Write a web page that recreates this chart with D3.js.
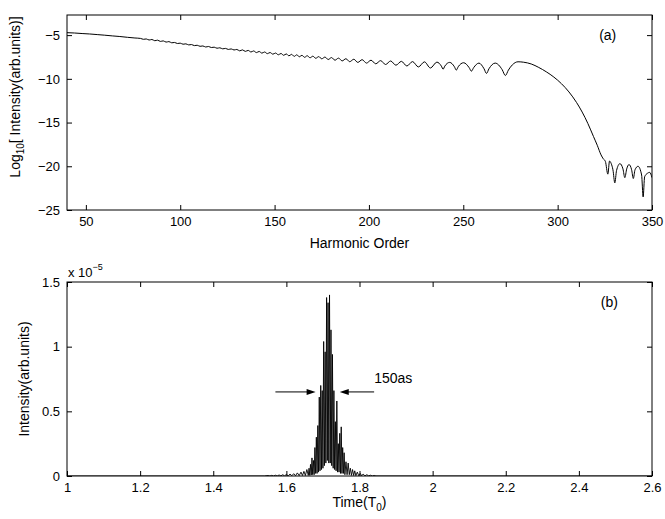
<!DOCTYPE html>
<html>
<head>
<meta charset="utf-8">
<script src="https://cdn.jsdelivr.net/npm/d3@7"></script>
<style>
  body { margin: 0; background: #fff; }
  svg { font-family: "Liberation Sans", Arial, Helvetica, sans-serif; }
</style>
</head>
<body>
<svg id="chart" width="665" height="519"></svg>
<script>
// panel (a): harmonic spectrum, log10 intensity
const harmonicOrder = [
  40, 44, 48, 52, 56, 60, 64, 68, 72, 76,
  79, 80.5, 82, 83.5, 85, 86.5, 88, 89.5, 91, 92.5, 94, 95.5, 97, 98.5, 100,
  101.5, 103, 104.5, 106, 107.5, 109, 110.5, 112, 113.5, 115, 116.5, 118, 119.5,
  121, 122.5, 124, 125.5, 127, 128.5, 130,
  131.5, 133, 134.5, 136, 137.5, 138.9, 140.4, 141.8, 143.3, 144.7, 146.2, 147.6,
  149.1, 150.5, 152, 153.4, 154.8, 156.2, 157.6, 159, 160.4, 161.8,
  163.1, 164.5, 165.9, 167.3, 168.8, 170.3, 171.8, 173.4, 175, 176.7, 178.4, 180.2,
  182, 183.9, 185.8, 187.8, 189.8, 192, 194.1, 196.4, 198.7, 201.1, 203.6, 206.2,
  208.8, 211.5, 214.3, 217.2, 220.1, 223.1, 226.2, 229.4, 232.6, 236,
  238.4, 239.3, 240.2, 242.8, 245.3, 246.3, 247.3, 250.2, 253.1, 254.3, 255.5, 258.3,
  261, 262.3, 263.6, 266.9, 270.6, 272.3, 273.9, 276, 279,
  282, 286, 290, 294, 298, 302, 306, 310, 313, 316, 319, 321, 323,
  324.2, 325.3, 326.6, 327.5, 328.4, 329.3, 330.3, 331.2, 333, 334.6, 335.6, 336.6,
  337.8, 339.2, 340.1, 341, 342.6, 344.5, 345.3, 346.1, 347.6, 348.8, 350
];
const logIntensity = [
  -4.72, -4.76, -4.82, -4.87, -4.94, -5.01, -5.09, -5.16, -5.25, -5.33,
  -5.38, -5.48, -5.44, -5.56, -5.50, -5.64, -5.58, -5.72, -5.66, -5.80, -5.74, -5.88, -5.84, -5.96, -5.92,
  -6.04, -6.00, -6.12, -6.08, -6.20, -6.16, -6.28, -6.24, -6.36, -6.30, -6.42, -6.38, -6.50,
  -6.45, -6.57, -6.52, -6.64, -6.58, -6.70, -6.64,
  -6.80, -6.69, -6.86, -6.75, -6.93, -6.81, -7.00, -6.87, -7.06, -6.93, -7.12, -6.99,
  -7.18, -7.05, -7.25, -7.10, -7.31, -7.15, -7.37, -7.20, -7.43, -7.25,
  -7.48, -7.31, -7.54, -7.36, -7.59, -7.41, -7.65, -7.46, -7.71, -7.51, -7.79, -7.57,
  -7.87, -7.63, -7.95, -7.70, -8.04, -7.76, -8.12, -7.81, -8.20, -7.87, -8.28, -7.92,
  -8.36, -7.96, -8.44, -8.00, -8.53, -8.03, -8.64, -8.06, -8.76, -8.09,
  -8.55, -8.90, -8.55, -8.12, -8.62, -9.00, -8.62, -8.16, -8.72, -9.12, -8.72, -8.20,
  -8.85, -9.38, -8.85, -8.20, -8.95, -9.62, -9.00, -8.40, -8.05,
  -8.10, -8.30, -8.70, -9.20, -9.80, -10.55, -11.50, -12.70, -13.80, -15.10, -16.60, -17.60, -18.70,
  -19.15, -19.45, -20.90, -19.40, -19.70, -20.40, -21.90, -20.50, -19.70, -20.30, -21.30, -20.30,
  -19.80, -20.40, -21.40, -20.40, -20.00, -21.00, -23.50, -21.20, -20.80, -20.70, -21.30
];
const harmonicTicks = [50, 100, 150, 200, 250, 300, 350];
const logTicks = [-25, -20, -15, -10, -5];

// panel (b): attosecond pulse, intensity in units of 1e-5
const pulseTime = [
  1.000, 1.540, 1.550, 1.555, 1.560, 1.565, 1.570, 1.575, 1.580, 1.585, 1.590, 1.595,
  1.600, 1.605, 1.610, 1.615, 1.620, 1.625, 1.630, 1.635, 1.640, 1.644, 1.648, 1.652,
  1.656, 1.660, 1.662, 1.664, 1.666, 1.668, 1.670, 1.672, 1.674, 1.676, 1.678, 1.680,
  1.682, 1.684, 1.686, 1.688, 1.690, 1.692, 1.694, 1.696, 1.698, 1.700, 1.702, 1.704,
  1.706, 1.708, 1.710, 1.712, 1.714, 1.716, 1.718, 1.720, 1.722, 1.724, 1.726, 1.728,
  1.730, 1.732, 1.734, 1.736, 1.738, 1.740, 1.742, 1.744, 1.746, 1.748, 1.750, 1.752,
  1.754, 1.756, 1.758, 1.760, 1.763, 1.766, 1.769, 1.772, 1.775, 1.778, 1.781, 1.784,
  1.787, 1.790, 1.794, 1.798, 1.802, 1.806, 1.810, 1.815, 1.820, 1.825, 1.830, 1.835,
  1.840, 1.845, 2.600
];
const pulseIntensity = [
  0, 0, 0.004, 0, 0.005, 0, 0.006, 0, 0.008, 0.001, 0.010, 0.001,
  0.012, 0.001, 0.015, 0.002, 0.018, 0.002, 0.024, 0.003, 0.030, 0.004, 0.036, 0.004,
  0.050, 0.005, 0.06, 0.005, 0.09, 0.008, 0.14, 0.01, 0.12, 0.01, 0.22, 0.02,
  0.30, 0.02, 0.39, 0.03, 0.61, 0.04, 0.70, 0.05, 0.66, 0.06, 1.04, 0.08,
  0.96, 0.10, 1.38, 0.12, 1.34, 0.10, 1.40, 0.10, 1.13, 0.08, 0.94, 0.06,
  0.66, 0.05, 0.42, 0.04, 0.58, 0.03, 0.25, 0.03, 0.33, 0.02, 0.38, 0.02,
  0.22, 0.02, 0.18, 0.01, 0.11, 0.01, 0.10, 0.01, 0.06, 0.005, 0.05, 0.004,
  0.04, 0.003, 0.03, 0.002, 0.02, 0.002, 0.015, 0.001, 0.010, 0.001, 0.006, 0,
  0.004, 0, 0
];
const timeTicks = [1, 1.2, 1.4, 1.6, 1.8, 2, 2.2, 2.4, 2.6];
const intensityTicks = [0, 0.5, 1, 1.5];

const svg = d3.select('#chart');
const tickLen = 5;
const fmt = d => String(+d.toFixed(1)).replace('-', '\u2212');

function drawFrame(g, x, y, xTicks, yTicks, w, h) {
    g.append('g')
        .attr('transform', `translate(0,${h})`)
        .call(d3.axisBottom(x).tickValues(xTicks).tickFormat(fmt)
            .tickSizeInner(-tickLen).tickSizeOuter(0).tickPadding(7))
        .call(a => a.select('.domain').remove());
    g.append('g')
        .call(d3.axisTop(x).tickValues(xTicks).tickFormat('')
            .tickSizeInner(-tickLen).tickSizeOuter(0))
        .call(a => a.select('.domain').remove());
    g.append('g')
        .call(d3.axisLeft(y).tickValues(yTicks).tickFormat(fmt)
            .tickSizeInner(-tickLen).tickSizeOuter(0).tickPadding(7))
        .call(a => a.select('.domain').remove());
    g.append('g')
        .attr('transform', `translate(${w},0)`)
        .call(d3.axisRight(y).tickValues(yTicks).tickFormat('')
            .tickSizeInner(-tickLen).tickSizeOuter(0))
        .call(a => a.select('.domain').remove());
    g.selectAll('.tick text').style('font-size', '13px').attr('fill', '#000');
    g.selectAll('.tick line').attr('stroke', '#000');
    g.append('rect')
        .attr('width', w).attr('height', h)
        .attr('fill', 'none').attr('stroke', '#000').attr('stroke-width', 1);
}

// ---- panel (a)
const A = { left: 67, top: 15, width: 585, height: 195 };
const gA = svg.append('g').attr('transform', `translate(${A.left},${A.top})`);
const xA = d3.scaleLinear().domain([40, 350]).range([0, A.width]);
const yA = d3.scaleLinear().domain([-25, -2.7]).range([A.height, 0]);

svg.append('clipPath').attr('id', 'clipA')
    .append('rect').attr('width', A.width).attr('height', A.height);

const spectrum = harmonicOrder.map((h, i) => ({ h: h, v: logIntensity[i] }));
gA.append('path')
    .datum(spectrum)
    .attr('clip-path', 'url(#clipA)')
    .attr('fill', 'none')
    .attr('stroke', '#000')
    .attr('stroke-width', 1)
    .attr('d', d3.line().curve(d3.curveMonotoneX).x(d => xA(d.h)).y(d => yA(d.v)));

drawFrame(gA, xA, yA, harmonicTicks, logTicks, A.width, A.height);

gA.append('text')
    .attr('x', xA(322)).attr('y', yA(-5.6))
    .style('font-size', '14px')
    .text('(a)');

svg.append('text')
    .attr('x', A.left + A.width / 2).attr('y', 248)
    .attr('text-anchor', 'middle')
    .style('font-size', '14px')
    .text('Harmonic Order');

const labA = svg.append('text')
    .attr('transform', 'translate(20,97) rotate(-90)')
    .attr('text-anchor', 'middle')
    .style('font-size', '14px');
labA.append('tspan').text('Log');
labA.append('tspan').attr('dy', 4).style('font-size', '10px').text('10');
labA.append('tspan').attr('dy', -4).text('[ Intensity(arb.units)]');

// ---- panel (b)
const B = { left: 67, top: 282, width: 585, height: 194 };
const gB = svg.append('g').attr('transform', `translate(${B.left},${B.top})`);
const xB = d3.scaleLinear().domain([1, 2.6]).range([0, B.width]);
const yB = d3.scaleLinear().domain([0, 1.5]).range([B.height, 0]);

svg.append('clipPath').attr('id', 'clipB')
    .append('rect').attr('width', B.width).attr('height', B.height);

const pulse = pulseTime.map((t, i) => ({ t: t, v: pulseIntensity[i] }));
gB.append('path')
    .datum(pulse)
    .attr('clip-path', 'url(#clipB)')
    .attr('fill', 'none')
    .attr('stroke', '#000')
    .attr('stroke-width', 0.9)
    .attr('d', d3.line().x(d => xB(d.t)).y(d => yB(d.v)));

drawFrame(gB, xB, yB, timeTicks, intensityTicks, B.width, B.height);

// arrows marking the 150as width
const arrowY = yB(0.65);
function arrow(x1, x2) {
    const dir = Math.sign(x2 - x1);
    gB.append('line')
        .attr('x1', x1).attr('x2', x2 - dir * 7)
        .attr('y1', arrowY).attr('y2', arrowY)
        .attr('stroke', '#000').attr('stroke-width', 1);
    gB.append('path')
        .attr('d', `M${x2},${arrowY} L${x2 - dir * 9},${arrowY - 3} L${x2 - dir * 9},${arrowY + 3} Z`)
        .attr('fill', '#000');
}
arrow(xB(1.57), xB(1.68));
arrow(xB(1.84), xB(1.746));

gB.append('text')
    .attr('x', xB(1.84)).attr('y', yB(0.72))
    .style('font-size', '14px')
    .text('150as');

gB.append('text')
    .attr('x', xB(2.46)).attr('y', yB(1.31))
    .style('font-size', '14px')
    .text('(b)');

const mult = svg.append('text')
    .attr('x', B.left + 1).attr('y', 277)
    .style('font-size', '13px');
mult.append('tspan').text('x 10');
mult.append('tspan').attr('dy', -7).style('font-size', '9px').text('\u22125');

svg.append('text')
    .attr('transform', `translate(29,${B.top + B.height / 2}) rotate(-90)`)
    .attr('text-anchor', 'middle')
    .style('font-size', '14px')
    .text('Intensity(arb.units)');

const labB = svg.append('text')
    .attr('x', B.left + B.width / 2).attr('y', 507)
    .attr('text-anchor', 'middle')
    .style('font-size', '14px');
labB.append('tspan').text('Time(T');
labB.append('tspan').attr('dy', 4).style('font-size', '10px').text('0');
labB.append('tspan').attr('dy', -4).text(')');
</script>
</body>
</html>
